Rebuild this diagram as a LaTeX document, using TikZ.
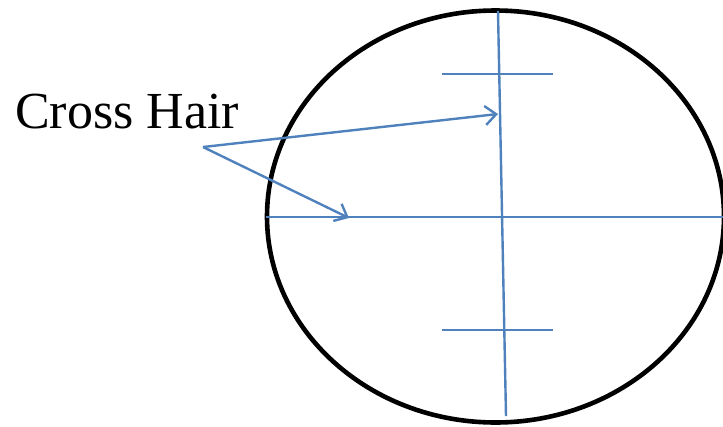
\documentclass[tikz,border=0pt]{standalone}
\usepackage{fontspec}
\setmainfont{Liberation Serif}
\usetikzlibrary{arrows.meta}
\definecolor{hairblue}{HTML}{4F81BD}
\tikzset{
  hair/.style={draw=hairblue, line width=2.4pt},
  pointer/.style={hair, -{Straight Barb[length=11pt, width=19pt, line width=2.4pt]}},
  rim/.style={draw=black, line width=4.6pt}
}
\begin{document}
\begin{tikzpicture}[x=1pt, y=-1pt]
\useasboundingbox (0,0) rectangle (723,426);
\draw[rim] (495.5,216.5) ellipse [x radius=228.5, y radius=206];
\coordinate (vt) at (498,11);
\coordinate (vb) at (506,416);
\coordinate (hl) at (266,217);
\coordinate (hr) at (723,217);
\coordinate (s1l) at (442,74);
\coordinate (s1r) at (553,74);
\coordinate (s2l) at (442,330);
\coordinate (s2r) at (553,330);
\draw[hair] (vt) -- (vb);
\draw[hair] (hl) -- (hr);
\draw[hair] (s1l) -- (s1r);
\draw[hair] (s2l) -- (s2r);
\node[anchor=base, font=\fontsize{52}{54}\selectfont, inner sep=0pt] (label) at (127,128) {Cross Hair};
\coordinate (src) at (203,147);
\coordinate (t1) at (498,114);
\coordinate (t2) at (349,218);
\draw[pointer] (src) -- (t1);
\draw[pointer] (src) -- (t2);
\end{tikzpicture}
\end{document}
